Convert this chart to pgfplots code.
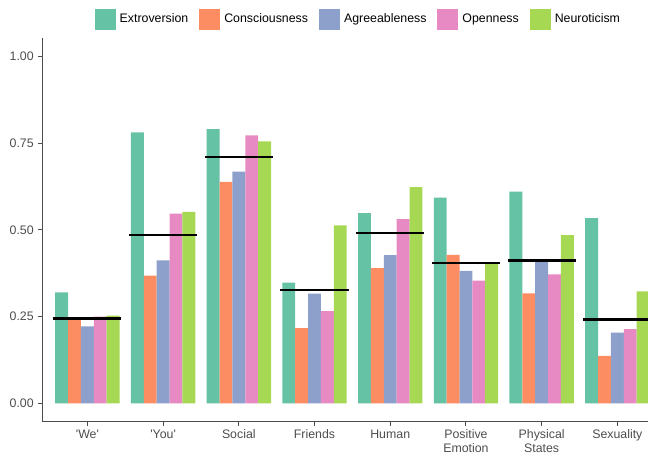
\documentclass[border=0pt]{standalone}
\usepackage{pgfplots}
\pgfplotsset{compat=1.18}
\usepackage{fontspec}
\setmainfont{Liberation Sans}
\definecolor{cE}{HTML}{66C2A5}
\definecolor{cC}{HTML}{FC8D62}
\definecolor{cA}{HTML}{8DA0CB}
\definecolor{cO}{HTML}{E78AC3}
\definecolor{cN}{HTML}{A6D854}
\definecolor{axgray}{HTML}{4D4D4D}
\pgfplotsset{
  mybar/.style={ybar, bar width=0.17, draw=none,
    legend image code/.code={\fill[##1, draw=none] (0bp,-10.5bp) rectangle (21bp,10.5bp);}},
}
\begin{document}
\fontsize{12.4}{14.5}\selectfont
\begin{tikzpicture}
\begin{axis}[
  at={(42bp,35.3bp)}, anchor=south west,
  scale only axis, width=606bp, height=383.7bp,
  xmin=-0.6, xmax=7.405, ymin=-0.0525, ymax=1.0525,
  axis x line*=bottom, axis y line*=left,
  axis line style={color=axgray, line width=1bp},
  xtick={0,1,2,3,4,5,6,7},
  xticklabels={\textquotesingle We\textquotesingle, \textquotesingle You\textquotesingle, Social, Friends, Human, Positive\\Emotion, Physical\\States, Sexuality},
  ytick={0,0.25,0.5,0.75,1},
  yticklabel={\pgfmathprintnumber[fixed,fixed zerofill,precision=2,assume math mode=true]{\tick}},
  tick style={color=axgray, line width=1bp},
  tick align=outside, major tick length=4bp,
  tick label style={color=axgray, font=\fontsize{12.4}{13.5}\selectfont},
  xticklabel style={align=center},
  legend columns=5,
  legend style={draw=none, fill=none, at={(0.522,1.0495)}, anchor=center,
    font=\fontsize{12.4}{14}\selectfont,
    /tikz/every odd column/.append style={column sep=2bp},
    /tikz/every even column/.append style={column sep=9bp}},
  legend cell align=left,
]
\addplot[mybar, fill=cE, bar shift=-0.34] coordinates {(0,0.320) (1,0.781) (2,0.790) (3,0.348) (4,0.548) (5,0.593) (6,0.610) (7,0.534)};
\addplot[mybar, fill=cC, bar shift=-0.17] coordinates {(0,0.245) (1,0.368) (2,0.638) (3,0.217) (4,0.390) (5,0.428) (6,0.317) (7,0.137)};
\addplot[mybar, fill=cA, bar shift=0] coordinates {(0,0.222) (1,0.412) (2,0.668) (3,0.316) (4,0.427) (5,0.382) (6,0.412) (7,0.204)};
\addplot[mybar, fill=cO, bar shift=0.17] coordinates {(0,0.250) (1,0.547) (2,0.772) (3,0.266) (4,0.531) (5,0.354) (6,0.372) (7,0.214)};
\addplot[mybar, fill=cN, bar shift=0.34] coordinates {(0,0.253) (1,0.552) (2,0.755) (3,0.513) (4,0.623) (5,0.403) (6,0.485) (7,0.323)};
\legend{Extroversion, Consciousness, Agreeableness, Openness, Neuroticism}
\addplot[black, line width=2.3bp, unbounded coords=jump, forget plot] coordinates {
 (-0.45,0.245) (0.45,0.245) (0.5,nan)
 (0.55,0.486) (1.45,0.486) (1.5,nan)
 (1.55,0.709) (2.45,0.709) (2.5,nan)
 (2.55,0.327) (3.45,0.327) (3.5,nan)
 (3.55,0.490) (4.45,0.490) (4.5,nan)
 (4.55,0.404) (5.45,0.404) (5.5,nan)
 (5.55,0.412) (6.45,0.412) (6.5,nan)
 (6.55,0.242) (7.45,0.242)
};
\end{axis}
\pgfresetboundingbox
\path (0bp,0bp) rectangle (648bp,457bp);
\end{tikzpicture}
\end{document}
